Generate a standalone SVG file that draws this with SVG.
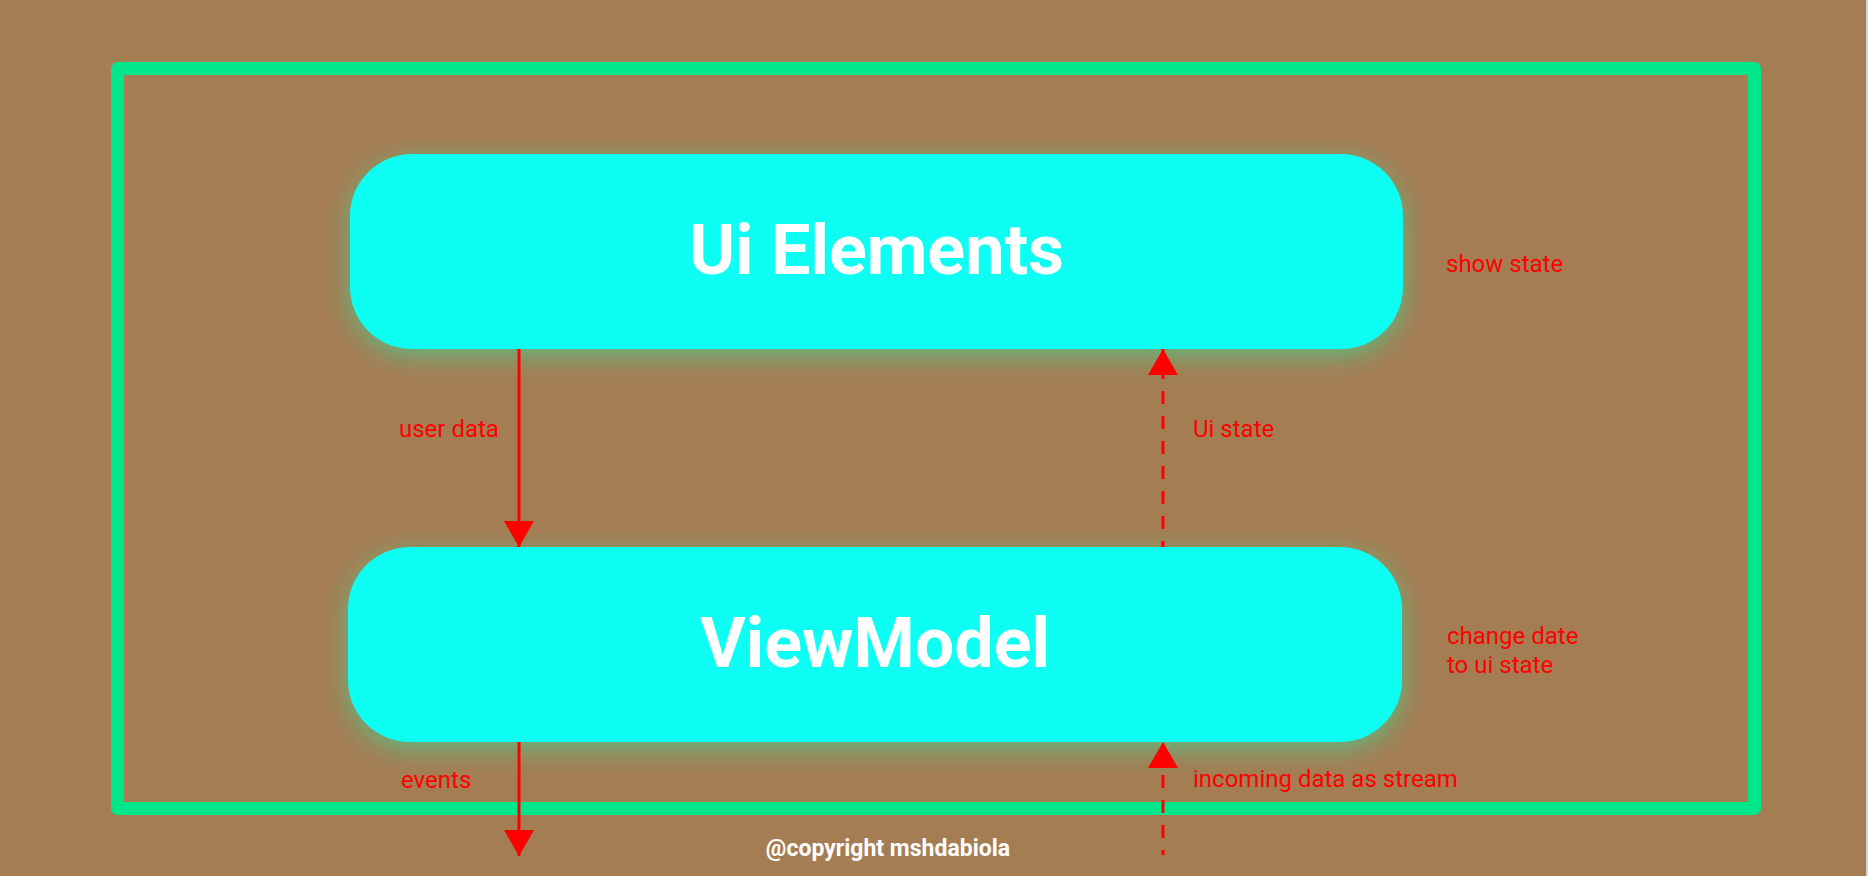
<svg xmlns="http://www.w3.org/2000/svg" width="1868" height="876" viewBox="0 0 1868 876">
  <style>
    .node-box { fill: #0affF4; filter: url(#glow); }
    .node-title { font-family: Roboto, "Liberation Sans", sans-serif; font-weight: 700; font-size: 70px; fill: #ffffff; text-anchor: middle; }
    .label { font-family: Roboto, "Liberation Sans", sans-serif; font-size: 24px; fill: #ff0000; }
    .flow { stroke: #ff0000; stroke-width: 3; fill: none; }
    .flow-dashed { stroke-dasharray: 13 12; }
    .credit { font-family: Roboto, "Liberation Sans", sans-serif; font-weight: 700; font-size: 23px; fill: #ffffff; text-anchor: middle; }
  </style>
  <defs>
    <filter id="glow" x="-10%" y="-40%" width="120%" height="190%">
      <feGaussianBlur in="SourceAlpha" stdDeviation="13"/>
      <feOffset dx="0" dy="7" result="blur"/>
      <feFlood flood-color="#30e09c" flood-opacity="0.6"/>
      <feComposite in2="blur" operator="in" result="shadow"/>
      <feMerge>
        <feMergeNode in="shadow"/>
        <feMergeNode in="SourceGraphic"/>
      </feMerge>
    </filter>
    <marker id="arrow" viewBox="0 0 26 30" refX="26" refY="15" markerWidth="26" markerHeight="30" markerUnits="userSpaceOnUse" orient="auto">
      <path d="M0,0 L26,15 L0,30 Z" fill="#ff0000"/>
    </marker>
  </defs>

  <!-- canvas -->
  <rect x="0" y="0" width="1868" height="876" fill="#a57d53"/>
  <line x1="1867" y1="0" x2="1867" y2="876" stroke="#d8d8d8" stroke-width="2"/>

  <!-- outer frame -->
  <rect id="frame" x="117.5" y="68.5" width="1637" height="740" fill="none" stroke="#00e68a" stroke-width="13" stroke-linejoin="round"/>

  <g id="ui-elements">
    <rect class="node-box" x="350" y="154" width="1053" height="195" rx="62" ry="62"/>
    <text class="node-title" x="876.5" y="274">Ui Elements</text>
  </g>

  <g id="view-model">
    <rect class="node-box" x="348" y="547" width="1054" height="195" rx="62" ry="62"/>
    <text class="node-title" x="875" y="667">ViewModel</text>
  </g>

  <g id="connectors">
    <path class="flow" d="M519,349 L519,547" marker-end="url(#arrow)"/>
    <path class="flow flow-dashed" d="M1163,547 L1163,349" stroke-dashoffset="7" marker-end="url(#arrow)"/>
    <path class="flow" d="M519,742 L519,856" marker-end="url(#arrow)"/>
    <path class="flow flow-dashed" d="M1163,855 L1163,742" stroke-dashoffset="8" marker-end="url(#arrow)"/>
  </g>

  <g id="labels">
    <text class="label" x="1446" y="272">show state</text>
    <text class="label" x="399" y="437">user data</text>
    <text class="label" x="1193" y="437">Ui state</text>
    <text class="label" x="1447" y="644">change date</text>
    <text class="label" x="1447" y="673">to ui state</text>
    <text class="label" x="401" y="788">events</text>
    <text class="label" x="1193" y="787">incoming data as stream</text>
  </g>

  <text class="credit" x="888" y="856">@copyright mshdabiola</text>
</svg>
